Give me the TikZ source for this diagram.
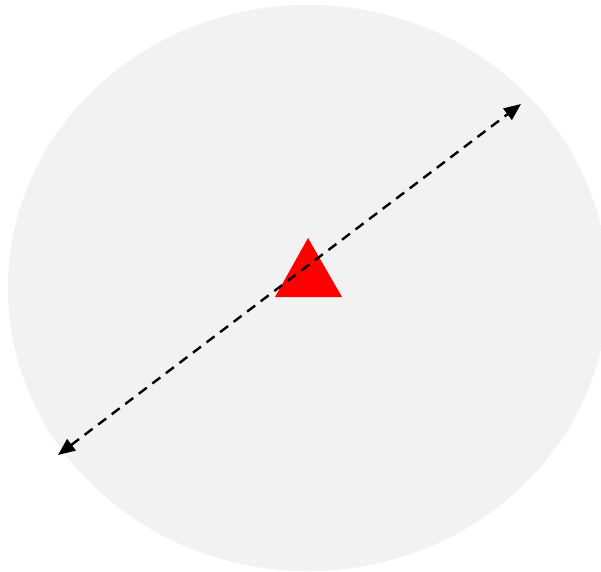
\documentclass[tikz,border=0pt]{standalone}
\usetikzlibrary{arrows.meta}
\definecolor{bggray}{HTML}{F2F2F2}
\begin{document}
\begin{tikzpicture}[x=1pt,y=-1pt,
  dimarrow/.style={line width=2.4pt, dash pattern=on 10pt off 7pt,
    {Triangle[length=17pt,width=14pt]}-{Triangle[length=17pt,width=14pt]}}]
\useasboundingbox (0,0) rectangle (601,571);
\clip (0,0) rectangle (601,571);
\fill[bggray] (308,288) ellipse [x radius=300, y radius=283];
\fill[red] (308,238) -- (342,297) -- (275,297) -- cycle;
\coordinate (a) at (58,455);
\coordinate (b) at (521,104);
\draw[dimarrow] (a) -- (b);
\end{tikzpicture}
\end{document}
